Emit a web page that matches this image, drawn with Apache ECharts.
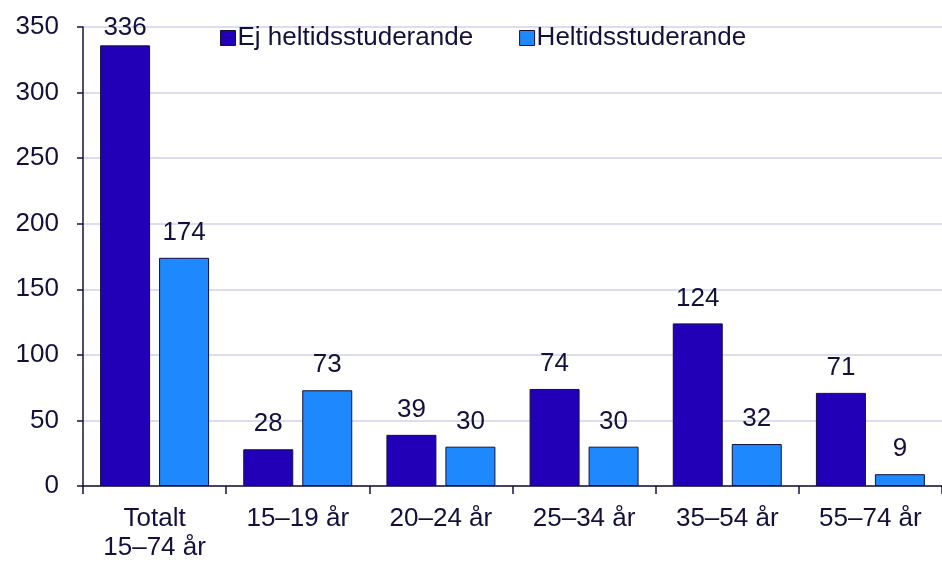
<!DOCTYPE html>
<html>
<head>
<meta charset="utf-8">
<script src="https://cdn.jsdelivr.net/npm/echarts@6/dist/echarts.min.js"></script>
<style>
  html, body { margin: 0; padding: 0; background: #fff; }
  #chart { width: 942px; height: 562px; }
</style>
</head>
<body>
<div id="chart"></div>
<script>
const categories = ['Totalt\n15–74 år', '15–19 år', '20–24 år', '25–34 år', '35–54 år', '55–74 år']
const ejHeltid = [336, 28, 39, 74, 124, 71]
const heltid = [174, 73, 30, 30, 32, 9]
const yTicks = { min: 0, max: 350, interval: 50 }

const textColor = '#14103c'
const font = 'Arial, "Liberation Sans", sans-serif'

const chart = echarts.init(document.getElementById('chart'))

// labels near the top of the plot sit closer to the bar
function toData(values) {
    return values.map(v => v > 300 ? { value: v, label: { distance: 5 } } : v)
}

function barSeries(name, data, color) {
    return {
        name: name,
        type: 'bar',
        data: toData(data),
        barWidth: 50,
        barGap: '18%',
        itemStyle: {
            color: color,
            borderColor: textColor,
            borderWidth: 1
        },
        label: {
            show: true,
            position: 'top',
            distance: 12,
            color: textColor,
            fontSize: 26,
            fontFamily: font
        }
    }
}

chart.setOption({
    animation: false,
    grid: { left: 83, right: 0, top: 27, bottom: 76, containLabel: false },
    legend: {
        left: 215,
        top: 20,
        icon: 'rect',
        itemWidth: 15,
        itemHeight: 15,
        itemGap: 46,
        textStyle: { color: textColor, fontSize: 26, fontFamily: font, padding: [0, 0, 0, -3] },
        itemStyle: { borderColor: textColor, borderWidth: 1 },
        data: ['Ej heltidsstuderande', 'Heltidsstuderande']
    },
    xAxis: {
        type: 'category',
        data: categories,
        axisLine: { lineStyle: { color: textColor, width: 1.5 } },
        axisTick: { show: true, length: 8, lineStyle: { color: textColor, width: 1.5 } },
        axisLabel: { color: textColor, fontSize: 26, fontFamily: font, margin: 18, lineHeight: 29 }
    },
    yAxis: {
        type: 'value',
        min: yTicks.min,
        max: yTicks.max,
        interval: yTicks.interval,
        axisLine: { show: true, lineStyle: { color: textColor, width: 1.5 } },
        axisTick: { show: true, length: 6, lineStyle: { color: textColor, width: 1.5 } },
        axisLabel: { color: textColor, fontSize: 26, fontFamily: font, margin: 24 },
        splitLine: { lineStyle: { color: '#d2d2ee', width: 1.5 } }
    },
    series: [
        barSeries('Ej heltidsstuderande', ejHeltid, '#2200b8'),
        barSeries('Heltidsstuderande', heltid, '#1e88ff')
    ]
})
</script>
</body>
</html>
